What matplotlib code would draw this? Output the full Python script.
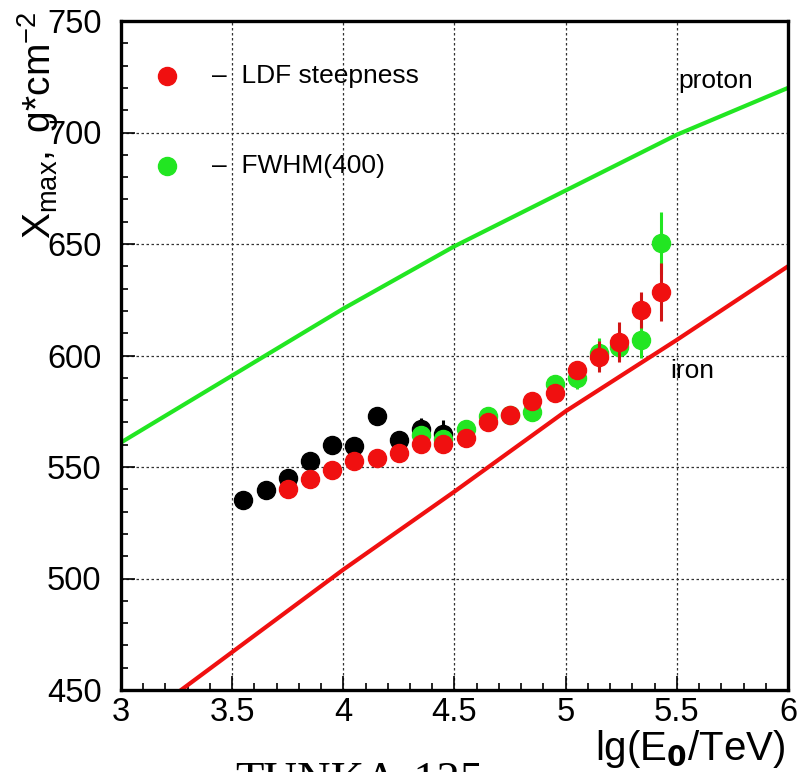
import numpy as np
import matplotlib
matplotlib.use('Agg')
import matplotlib.pyplot as plt
from matplotlib.ticker import MultipleLocator

plt.rcParams['font.family'] = ['Liberation Sans', 'DejaVu Sans']
plt.rcParams['mathtext.fontset'] = 'custom'
plt.rcParams['mathtext.rm'] = 'Liberation Sans'
plt.rcParams['mathtext.it'] = 'Liberation Sans'

# black points (earlier data)
black_x = [3.55, 3.65, 3.75, 3.85, 3.95, 4.05, 4.15, 4.25, 4.35, 4.45]
black_y = [535, 539.5, 545, 552.5, 560, 559.5, 573, 562, 567, 565]
black_err = [1.5, 1.5, 1.5, 1.5, 1.5, 1.5, 1.5, 4, 5, 6]

# LDF steepness (red)
red_x = [3.75, 3.85, 3.95, 4.05, 4.15, 4.25, 4.35, 4.45, 4.55, 4.65, 4.75,
         4.85, 4.95, 5.05, 5.15, 5.24, 5.34, 5.43]
red_y = [540.3, 544.4, 548.5, 552.7, 554.2, 556.4, 560.1, 560.1, 563.1, 570.3,
         573.2, 579.5, 583.3, 593.7, 599.4, 606.1, 620.3, 628.3]
red_err = [1.5, 1.5, 1.5, 1.5, 1.5, 1.5, 1.5, 1.5, 1.5, 1.5, 1.5,
           2, 2, 3, 7, 9, 8, 13]

# FWHM(400) (green)
green_x = [4.35, 4.45, 4.55, 4.65, 4.75, 4.85, 4.95, 5.05, 5.15, 5.24, 5.34, 5.43]
green_y = [564.2, 562.6, 567.2, 573.0, 573.5, 574.6, 587.3, 590.0, 601, 604, 607.1, 650.5]
green_err = [1.5, 1.5, 1.5, 1.5, 1.5, 2, 2, 5, 7, 6, 8, 14]

# model curves
proton_x = [3.0, 4.0, 4.5, 5.0, 5.5, 6.0]
proton_y = [561, 621, 649, 674, 699, 720]
iron_x = [3.0, 3.5, 4.0, 4.5, 5.0, 5.5, 6.0]
iron_y = [430, 467, 504, 539, 575, 607, 640]

RED = '#f01010'
GREEN = '#22e622'

fig = plt.figure(figsize=(8, 7.72), dpi=100)
ax = fig.add_axes([121 / 800, 1 - 690 / 772, 667 / 800, 669 / 772])

ax.plot(proton_x, proton_y, color=GREEN, lw=3, zorder=2)
ax.plot(iron_x, iron_y, color=RED, lw=3, zorder=2)

ax.errorbar(black_x, black_y, yerr=black_err, fmt='o', color='black', ms=13,
            elinewidth=2.2, capsize=0, zorder=3)
ax.errorbar(green_x, green_y, yerr=green_err, fmt='o', color=GREEN, ms=13,
            elinewidth=2.2, capsize=0, zorder=4)
ax.errorbar(red_x, red_y, yerr=red_err, fmt='o', color=RED, ecolor='#d01515', ms=13,
            elinewidth=2.2, capsize=0, zorder=5)

# legend drawn by hand like the original
ax.plot([3.205], [725.4], 'o', color=RED, ms=13, clip_on=False)
ax.plot([3.205], [685.2], 'o', color=GREEN, ms=13, clip_on=False)
ax.text(3.41, 725.4, '\u2013  LDF steepness', fontsize=19, va='center')
ax.text(3.41, 685.2, '\u2013  FWHM(400)', fontsize=19, va='center')
ax.text(5.505, 723, 'proton', fontsize=19, va='center')
ax.text(5.47, 593, 'iron', fontsize=19, va='center')

ax.set_xlim(3, 6)
ax.set_ylim(450, 750)
ax.xaxis.set_major_locator(MultipleLocator(0.5))
ax.xaxis.set_minor_locator(MultipleLocator(0.1))
ax.yaxis.set_major_locator(MultipleLocator(50))
ax.yaxis.set_minor_locator(MultipleLocator(10))
ax.xaxis.set_major_formatter(plt.FuncFormatter(lambda v, p: f'{v:g}'))
ax.yaxis.set_major_formatter(plt.FuncFormatter(lambda v, p: f'{v:g}'))

ax.tick_params(axis='both', which='both', direction='in', top=False, right=False,
               width=1.2, color='black')
ax.tick_params(axis='both', which='major', length=10, labelsize=23.5)
ax.tick_params(axis='both', which='minor', length=5)
ax.tick_params(axis='y', which='major', pad=14)
ax.tick_params(axis='x', which='major', pad=5)

ax.grid(True, which='major', color='#333333', linestyle=(0, (2, 2)), lw=0.9)
for s in ax.spines.values():
    s.set_linewidth(2.4)

fig.text(38 / 800, 1 - 12 / 772, r'$\mathrm{X_{max},\ g{*}cm^{-2}}$', rotation=90,
         fontsize=28, ha='center', va='top')
fig.text(786 / 800, 1 - 728 / 772, r'lg(E$_\mathbf{0}$/TeV)', fontsize=29,
         ha='right', va='top')
fig.text(235 / 800, -22 / 772, 'TUNKA-125', family='Liberation Serif',
         fontsize=33.5, va='baseline', ha='left')

fig.savefig('out.png', dpi=100)
